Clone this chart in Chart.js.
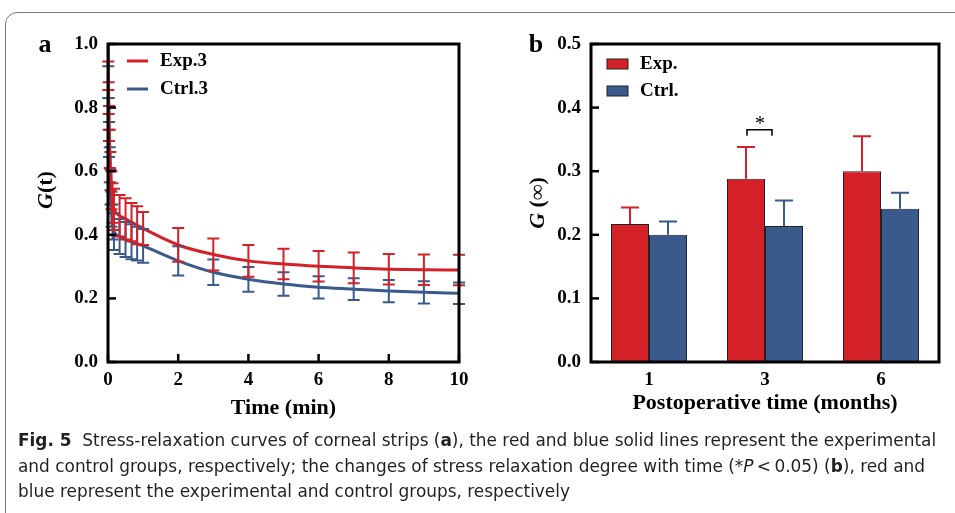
<!DOCTYPE html>
<html>
<head>
<meta charset="utf-8">
<script src="https://cdn.jsdelivr.net/npm/chart.js@4.4.0/dist/chart.umd.min.js"></script>
<style>
    body { margin: 0; background: #fff; width: 955px; height: 513px; overflow: hidden; position: relative; }
    .frame { position: absolute; left: 5px; top: 12px; width: 990px; height: 530px; border: 1px solid #7a7a7a; border-top-left-radius: 12px; }
    #wrapA { position: absolute; left: 0; top: 0; width: 480px; height: 430px; }
    #wrapB { position: absolute; left: 480px; top: 0; width: 475px; height: 430px; }
    .letter { position: absolute; font: bold 26px "Liberation Serif", serif; transform: translate(-50%, -50%); }
    .ytitle { position: absolute; font: bold 22px "Liberation Serif", serif; transform: translate(-50%, -50%) rotate(-90deg); white-space: nowrap; }
    .caption { position: absolute; left: 18px; top: 428px; font: 17.5px "Liberation Sans Narrow", "DejaVu Sans Condensed", sans-serif; color: #231f20; line-height: 25.5px; white-space: nowrap; transform: scaleX(1.075); transform-origin: 0 0; }
</style>
</head>
<body>
<div class="frame"></div>
<div id="wrapA"><canvas id="chartA"></canvas></div>
<div id="wrapB"><canvas id="chartB"></canvas></div>
<div class="letter" style="left:45px;top:44px">a</div>
<div class="letter" style="left:536px;top:44px">b</div>
<div class="ytitle" style="left:45px;top:190px"><i>G</i>(t)</div>
<div class="ytitle" style="left:537px;top:203px"><i>G</i> (∞)</div>
<div class="caption"><b>Fig. 5</b>&nbsp; Stress-relaxation curves of corneal strips (<b>a</b>), the red and blue solid lines represent the experimental<br>and control groups, respectively; the changes of stress relaxation degree with time (*<i>P</i>&thinsp;&lt;&thinsp;0.05) (<b>b</b>), red and<br>blue represent the experimental and control groups, respectively</div>
<script>
// Dữ liệu panel a: G(t) theo thời gian (phút)
const timeMin = [0, 0.01, 0.02, 0.03, 0.05, 0.07, 0.1, 0.13, 0.17, 0.33, 0.5, 0.67, 0.83, 1, 2, 3, 4, 5, 6, 7, 8, 9, 10];
const expGt = [1.0, 0.9, 0.83, 0.75, 0.67, 0.6, 0.54, 0.5, 0.48, 0.46, 0.45, 0.44, 0.43, 0.42, 0.368, 0.338, 0.318, 0.308, 0.301, 0.296, 0.292, 0.29, 0.289];
const expGtErr = [0, 0.045, 0.05, 0.055, 0.06, 0.06, 0.06, 0.062, 0.065, 0.065, 0.065, 0.06, 0.06, 0.052, 0.053, 0.05, 0.05, 0.048, 0.048, 0.048, 0.048, 0.048, 0.048];
const ctrlGt = [1.0, 0.88, 0.78, 0.7, 0.62, 0.55, 0.48, 0.44, 0.41, 0.395, 0.385, 0.378, 0.372, 0.365, 0.318, 0.282, 0.26, 0.245, 0.235, 0.229, 0.223, 0.219, 0.216];
const ctrlGtErr = [0, 0.05, 0.05, 0.055, 0.055, 0.055, 0.055, 0.055, 0.058, 0.055, 0.055, 0.055, 0.053, 0.053, 0.046, 0.04, 0.039, 0.037, 0.035, 0.034, 0.035, 0.035, 0.034];

// Dữ liệu panel b: G(∞) theo tháng sau phẫu thuật
const months = ['1', '3', '6'];
const expGinf = [0.217, 0.288, 0.300];
const expGinfErr = [0.026, 0.05, 0.055];
const ctrlGinf = [0.200, 0.214, 0.241];
const ctrlGinfErr = [0.021, 0.04, 0.025];

const yTicksA = [0, 0.2, 0.4, 0.6, 0.8, 1.0];
const yTicksB = [0, 0.1, 0.2, 0.3, 0.4, 0.5];

const RED = '#d42027';
const BLUE = '#3a5a8c';
const SERIF = '"Liberation Serif", "Times New Roman", serif';
const tickFont = { family: SERIF, size: 19, weight: 'bold' };
const titleFont = { family: SERIF, size: 22, weight: 'bold' };

// Khung trục + vạch chia hướng vào trong
const framePlugin = {
    id: 'frame',
    afterDraw(chart, args, opts) {
        const { ctx, chartArea: a, scales } = chart;
        ctx.save();
        ctx.strokeStyle = '#000';
        ctx.lineWidth = 3;
        ctx.strokeRect(a.left, a.top, a.right - a.left, a.bottom - a.top);
        ctx.lineWidth = 2.5;
        scales.y.ticks.forEach(t => {
            const y = scales.y.getPixelForValue(t.value);
            ctx.beginPath(); ctx.moveTo(a.left, y); ctx.lineTo(a.left + 8, y); ctx.stroke();
        });
        if (opts.xTicks) {
            scales.x.ticks.forEach(t => {
                const x = scales.x.getPixelForValue(t.value);
                ctx.beginPath(); ctx.moveTo(x, a.bottom); ctx.lineTo(x, a.bottom - 8); ctx.stroke();
            });
        }
        ctx.restore();
    }
};

// Thanh sai số cho panel a (đối xứng)
const errorLinePlugin = {
    id: 'errLine',
    afterDatasetsDraw(chart) {
        const { ctx, scales: { x, y } } = chart;
        const sets = [[ctrlGt, ctrlGtErr, BLUE], [expGt, expGtErr, RED]];
        ctx.save();
        ctx.lineWidth = 2;
        sets.forEach(([vals, errs, color]) => {
            ctx.strokeStyle = color;
            timeMin.forEach((t, i) => {
                if (!errs[i]) return;
                const px = x.getPixelForValue(t);
                const top = y.getPixelForValue(vals[i] + errs[i]);
                const bot = y.getPixelForValue(vals[i] - errs[i]);
                ctx.beginPath();
                ctx.moveTo(px, top); ctx.lineTo(px, bot);
                ctx.moveTo(px - 6, top); ctx.lineTo(px + 6, top);
                ctx.moveTo(px - 6, bot); ctx.lineTo(px + 6, bot);
                ctx.stroke();
            });
        });
        ctx.restore();
    }
};

// Chú thích panel a
const legendA = {
    id: 'legendA',
    afterDraw(chart) {
        const { ctx } = chart;
        ctx.save();
        ctx.lineWidth = 3;
        ctx.font = 'bold 19px ' + SERIF;
        ctx.textBaseline = 'middle';
        ctx.fillStyle = '#000';
        [['Exp.3', RED, 61], ['Ctrl.3', BLUE, 89]].forEach(([txt, c, y]) => {
            ctx.strokeStyle = c;
            ctx.beginPath(); ctx.moveTo(127, y); ctx.lineTo(148, y); ctx.stroke();
            ctx.fillText(txt, 160, y);
        });
        ctx.restore();
    }
};

// Thanh sai số (chỉ phía trên) cho panel b + dấu *
const errorBarPlugin = {
    id: 'errBar',
    afterDatasetsDraw(chart) {
        const { ctx, scales: { x, y } } = chart;
        ctx.save();
        ctx.lineWidth = 2;
        const errs = [expGinfErr, ctrlGinfErr];
        chart.data.datasets.forEach((ds, di) => {
            ctx.strokeStyle = ds.errColor;
            chart.getDatasetMeta(di).data.forEach((bar, i) => {
                const top = y.getPixelForValue(ds.data[i] + errs[di][i]);
                ctx.beginPath();
                ctx.moveTo(bar.x, bar.y); ctx.lineTo(bar.x, top);
                ctx.moveTo(bar.x - 9, top); ctx.lineTo(bar.x + 9, top);
                ctx.stroke();
            });
        });
        // dấu sao ở tháng 3
        const xc = x.getPixelForValue(1);
        const yb = y.getPixelForValue(0.365);
        ctx.strokeStyle = '#000';
        ctx.lineWidth = 1.5;
        ctx.beginPath();
        ctx.moveTo(xc - 18, yb + 6); ctx.lineTo(xc - 18, yb); ctx.lineTo(xc + 7, yb); ctx.lineTo(xc + 7, yb + 6);
        ctx.stroke();
        ctx.fillStyle = '#000';
        ctx.font = '20px ' + SERIF;
        ctx.textAlign = 'center';
        ctx.textBaseline = 'middle';
        ctx.fillText('*', xc - 5, yb - 5);
        ctx.restore();
    }
};

// Chú thích panel b
const legendB = {
    id: 'legendB',
    afterDraw(chart) {
        const { ctx } = chart;
        ctx.save();
        ctx.font = 'bold 19px ' + SERIF;
        ctx.textBaseline = 'middle';
        [['Exp.', RED, 64], ['Ctrl.', BLUE, 91]].forEach(([txt, c, y]) => {
            ctx.fillStyle = c;
            ctx.fillRect(127, y - 5, 21, 10);
            ctx.strokeStyle = '#222';
            ctx.lineWidth = 1;
            ctx.strokeRect(127, y - 5, 21, 10);
            ctx.fillStyle = '#000';
            ctx.fillText(txt, 160, y);
        });
        ctx.restore();
    }
};

// Biểu đồ a: đường cong giãn ứng suất
new Chart(document.getElementById('chartA'), {
    type: 'line',
    data: {
        datasets: [
            { label: 'Exp.3', data: timeMin.map((t, i) => ({ x: t, y: expGt[i] })), borderColor: RED, borderWidth: 3, pointRadius: 0, cubicInterpolationMode: 'monotone' },
            { label: 'Ctrl.3', data: timeMin.map((t, i) => ({ x: t, y: ctrlGt[i] })), borderColor: BLUE, borderWidth: 3, pointRadius: 0, cubicInterpolationMode: 'monotone' }
        ]
    },
    options: {
        responsive: true,
        maintainAspectRatio: false,
        animation: false,
        layout: { padding: { top: 44, right: 21, left: 0, bottom: 4 } },
        plugins: { legend: { display: false }, tooltip: { enabled: false }, frame: { xTicks: true } },
        scales: {
            x: {
                type: 'linear', min: 0, max: 10,
                ticks: { stepSize: 2, font: tickFont, color: '#000', padding: 7, maxRotation: 0 },
                grid: { display: false, drawTicks: false },
                border: { display: false },
                title: { display: true, text: 'Time (min)', font: titleFont, color: '#000' },
                afterFit: s => { s.height = 64; }
            },
            y: {
                min: 0, max: 1,
                afterBuildTicks: s => { s.ticks = yTicksA.map(v => ({ value: v })); },
                ticks: { font: tickFont, color: '#000', padding: 10, callback: v => v.toFixed(1) },
                grid: { display: false, drawTicks: false },
                border: { display: false },
                afterFit: s => { s.width = 108; }
            }
        }
    },
    plugins: [errorLinePlugin, framePlugin, legendA]
});

// Biểu đồ b: G(∞) theo thời gian sau mổ
new Chart(document.getElementById('chartB'), {
    type: 'bar',
    data: {
        labels: months,
        datasets: [
            { label: 'Exp.', data: expGinf, backgroundColor: RED, borderColor: '#222', borderWidth: 1, errColor: RED },
            { label: 'Ctrl.', data: ctrlGinf, backgroundColor: BLUE, borderColor: '#222', borderWidth: 1, errColor: BLUE }
        ]
    },
    options: {
        responsive: true,
        maintainAspectRatio: false,
        animation: false,
        layout: { padding: { top: 44, right: 16, left: 0, bottom: 9 } },
        datasets: { bar: { categoryPercentage: 0.655, barPercentage: 1.0 } },
        plugins: { legend: { display: false }, tooltip: { enabled: false }, frame: { xTicks: false } },
        scales: {
            x: {
                ticks: { font: tickFont, color: '#000', padding: 7 },
                grid: { display: false, drawTicks: false },
                border: { display: false },
                title: { display: true, text: 'Postoperative time (months)', font: titleFont, color: '#000' },
                afterFit: s => { s.height = 59; }
            },
            y: {
                min: 0, max: 0.5,
                afterBuildTicks: s => { s.ticks = yTicksB.map(v => ({ value: v })); },
                ticks: { font: tickFont, color: '#000', padding: 10, callback: v => v.toFixed(1) },
                grid: { display: false, drawTicks: false },
                border: { display: false },
                afterFit: s => { s.width = 111; }
            }
        }
    },
    plugins: [errorBarPlugin, framePlugin, legendB]
});
</script>
</body>
</html>
